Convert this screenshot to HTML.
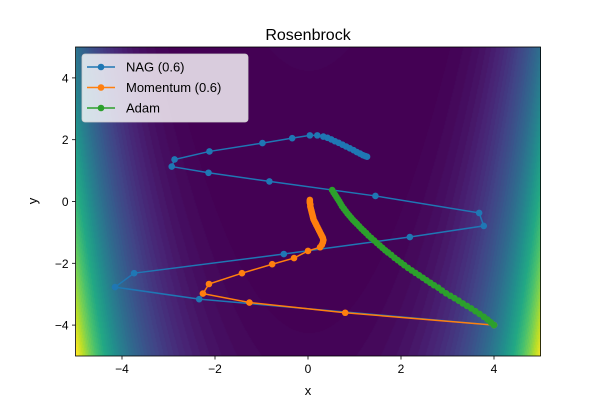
<!DOCTYPE html>
<html><head><meta charset="utf-8"><style>
body{margin:0;background:#fff;width:600px;height:400px;overflow:hidden;font-family:"Liberation Sans","DejaVu Sans",sans-serif}
#bg{position:absolute;left:75.5px;top:47px}
svg{position:absolute;left:0;top:0}
</style></head><body>
<canvas id="bg" width="465" height="309"></canvas>
<svg id="chart" width="600" height="400"></svg>
<script>
const nagX=[4,-2.34,-4.15,-3.74,-0.52,2.19,3.78,3.68,1.45,-0.83,-2.14,-2.93,-2.87,-2.12,-0.98,-0.34,0.04,0.2,0.33,0.42,0.5,0.58,0.66,0.74,0.82,0.9,0.98,1.05,1.12,1.18,1.23,1.27];
const nagY=[-4,-3.16,-2.77,-2.32,-1.70,-1.15,-0.79,-0.37,0.18,0.65,0.93,1.13,1.36,1.62,1.89,2.05,2.14,2.14,2.1,2.06,2.01,1.95,1.9,1.84,1.78,1.72,1.66,1.6,1.55,1.5,1.47,1.45];
const momX=[4,0.8,-1.26,-2.26,-2.13,-1.42,-0.77,-0.30,0.0,0.26,0.30,0.32,0.33,0.32,0.30,0.28,0.26,0.24,0.22,0.20,0.18,0.16,0.14,0.12,0.11,0.10,0.09,0.08,0.07,0.06,0.05,0.05,0.04,0.04,0.04];
const momY=[-4,-3.6,-3.27,-2.98,-2.67,-2.32,-2.03,-1.83,-1.6,-1.48,-1.40,-1.32,-1.25,-1.18,-1.12,-1.06,-1.0,-0.94,-0.88,-0.82,-0.76,-0.70,-0.64,-0.58,-0.52,-0.46,-0.40,-0.34,-0.28,-0.22,-0.16,-0.10,-0.04,0.01,0.05];
const adamX=[0.52,0.55,0.58,0.61,0.64,0.67,0.70,0.73,0.77,0.81,0.85,0.89,0.93,0.97,1.01,1.05,1.10,1.15,1.20,1.25,1.30,1.36,1.42,1.48,1.54,1.60,1.66,1.72,1.79,1.86,1.93,2.00,2.07,2.15,2.23,2.31,2.39,2.47,2.55,2.63,2.71,2.80,2.88,2.97,3.06,3.15,3.24,3.33,3.42,3.51,3.60,3.69,3.78,3.86,3.93,4.0];
const adamY=[0.37,0.29,0.22,0.15,0.08,0.01,-0.07,-0.15,-0.23,-0.31,-0.39,-0.46,-0.53,-0.60,-0.66,-0.72,-0.80,-0.88,-0.95,-1.02,-1.10,-1.18,-1.26,-1.34,-1.42,-1.50,-1.58,-1.65,-1.73,-1.82,-1.90,-1.98,-2.06,-2.15,-2.23,-2.31,-2.39,-2.47,-2.55,-2.63,-2.71,-2.79,-2.88,-2.97,-3.05,-3.13,-3.21,-3.30,-3.38,-3.46,-3.55,-3.64,-3.73,-3.82,-3.91,-4.0];
const xTicks=[-4,-2,0,2,4];
const yTicks=[-4,-2,0,2,4];
const L=75.5,R=540.5,T=47,B=356;
const sx=v=>L+(v+5)/10*(R-L), sy=v=>B-(v+5)/10*(B-T);
const NS='http://www.w3.org/2000/svg';
const svg=document.getElementById('chart');
function mk(t,a,p){const e=document.createElementNS(NS,t);for(const k in a)e.setAttribute(k,a[k]);(p||svg).appendChild(e);return e;}
const vir=[[68,1,84],[72,36,117],[65,68,135],[53,95,141],[42,120,142],[33,145,140],[34,168,132],[68,191,112],[122,209,81],[189,223,38],[253,231,37]];
function vc(t){t=Math.max(0,Math.min(1,t))*10;const i=Math.min(9,Math.floor(t)),f=t-i;return vir[i].map((c,k)=>Math.round(c+(vir[i+1][k]-c)*f));}
const cv=document.getElementById('bg'),ctx=cv.getContext('2d'),img=ctx.createImageData(cv.width,cv.height);
const fmax=90036,nl=50;
for(let py=0;py<cv.height;py++)for(let px=0;px<cv.width;px++){
 const x=-5+px/cv.width*10,y=5-py/cv.height*10;const f=(1-x)**2+100*(y-x*x)**2;
 const lv=Math.min(nl-1,Math.floor(f/fmax*nl));const c=vc(Math.pow(lv/(nl-1),1.2));const o=(py*cv.width+px)*4;
 img.data[o]=c[0];img.data[o+1]=c[1];img.data[o+2]=c[2];img.data[o+3]=255;}
ctx.putImageData(img,0,0);
const defs=mk('defs',{});const cp=mk('clipPath',{id:'clip'},defs);mk('rect',{x:L,y:T,width:R-L,height:B-T},cp);
mk('rect',{x:L,y:T,width:R-L,height:B-T,fill:'none',stroke:'#000','stroke-width':0.8,});
xTicks.forEach(v=>{const x=sx(v);mk('line',{x1:x,x2:x,y1:B,y2:B+3.5,stroke:'#000','stroke-width':0.8});
 const t=mk('text',{x:x,y:B+17,'text-anchor':'middle','font-size':'12','fill':'#000'});t.textContent=(v<0?'\u2212'+(-v):v);
 
 });
yTicks.forEach(v=>{const y=sy(v);mk('line',{x1:L,x2:L-3.5,y1:y,y2:y,stroke:'#000','stroke-width':0.8});
 const t=mk('text',{x:L-7,y:y+4.5,'text-anchor':'end','font-size':'12','fill':'#000'});t.textContent=(v<0?'\u2212'+(-v):v);
 
 });
let t=mk('text',{x:308,y:395,'text-anchor':'middle','font-size':'13'});t.textContent='x';

t=mk('text',{x:37,y:201,'text-anchor':'middle','font-size':'13',transform:'rotate(-90 37 201)'});t.textContent='y';

t=mk('text',{x:308,y:40,'text-anchor':'middle','font-size':'16'});t.textContent='Rosenbrock';

function series(xs,ys,col,name){const g=mk('g',{'clip-path':'url(#clip)'});
 
 
 mk('polyline',{points:xs.map((x,i)=>sx(x)+','+sy(ys[i])).join(' '),fill:'none',stroke:col,'stroke-width':1.5},g);
 xs.forEach((x,i)=>{const c=mk('circle',{cx:sx(x),cy:sy(ys[i]),r:3.3,fill:col},g);
  
  });}
series(nagX,nagY,'#1f77b4','nag-series');
series(momX,momY,'#ff7f0e','momentum-series');
series(adamX,adamY,'#2ca02c','adam-series');
const lg=mk('g',{});
mk('rect',{x:82,y:54,width:166,height:68,rx:3,fill:'#fff','fill-opacity':0.8,stroke:'#ccc','stroke-width':0.8},lg);
[['NAG (0.6)','#1f77b4'],['Momentum (0.6)','#ff7f0e'],['Adam','#2ca02c']].forEach((e,i)=>{const y=67+i*20.5;
 const eg=mk('g',{},lg);
 mk('line',{x1:87,x2:115,y1:y,y2:y,stroke:e[1],'stroke-width':1.5},eg);
 mk('circle',{cx:101,cy:y,r:3.3,fill:e[1]},eg);
 const tt=mk('text',{x:126,y:y+4.5,'font-size':'13'},eg);tt.textContent=e[0];});
</script>
</body></html>
